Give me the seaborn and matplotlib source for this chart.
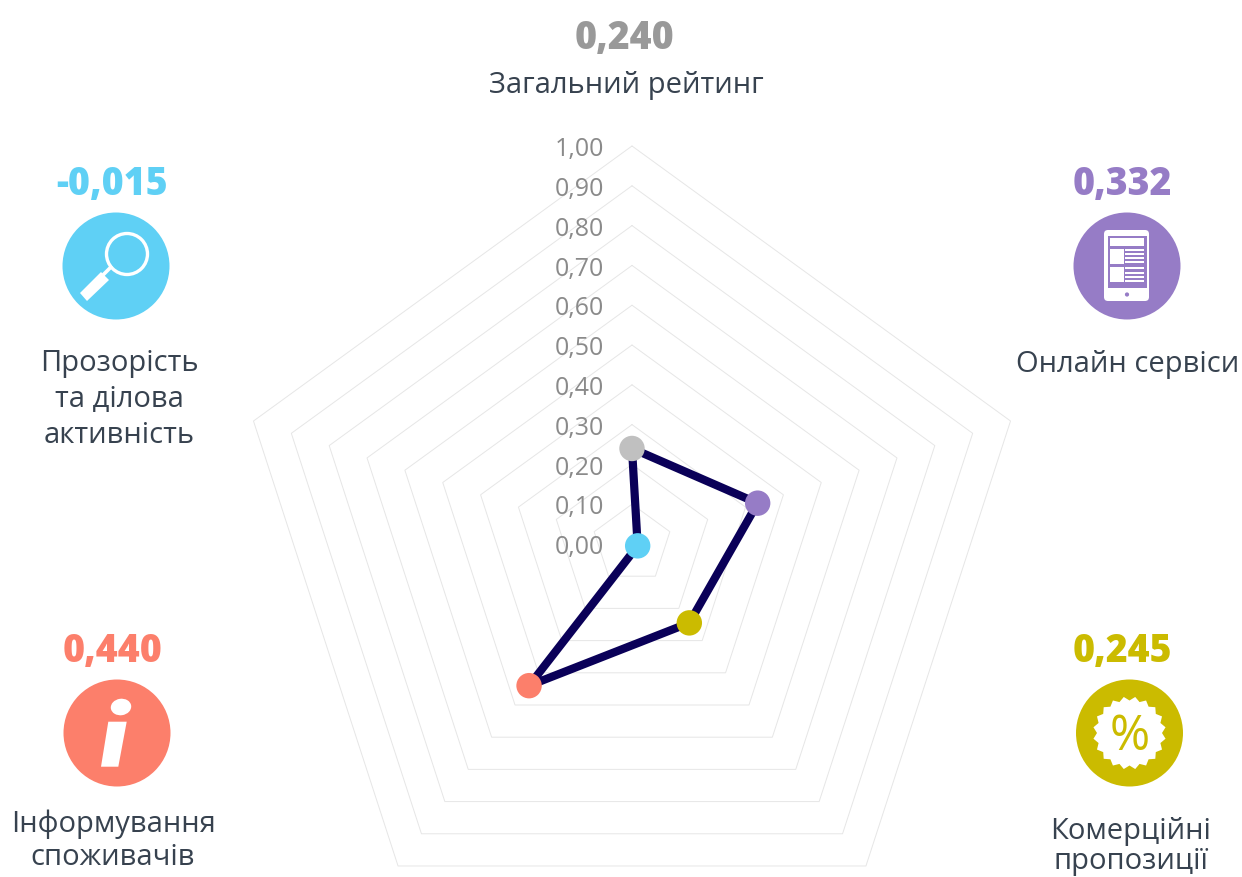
import numpy as np
import pandas as pd
import matplotlib
matplotlib.use("Agg")
import matplotlib.pyplot as plt
from matplotlib.patches import Circle, Ellipse, Polygon, Rectangle, FancyBboxPatch
import seaborn as sns

# ---- data ----
categories = ["Загальний рейтинг", "Онлайн сервіси", "Комерційні пропозиції",
              "Інформування споживачів", "Прозорість та ділова активність"]
values = [0.240, 0.332, 0.245, 0.440, -0.015]
value_labels = ["0,240", "0,332", "0,245", "0,440", "-0,015"]
ring_levels = [0.10, 0.20, 0.30, 0.40, 0.50, 0.60, 0.70, 0.80, 0.90, 1.00]
tick_levels = [0.00, 0.10, 0.20, 0.30, 0.40, 0.50, 0.60, 0.70, 0.80, 0.90, 1.00]
tick_labels = ["0,00", "0,10", "0,20", "0,30", "0,40", "0,50", "0,60", "0,70", "0,80", "0,90", "1,00"]
point_colors = ["#c0c0c0", "#967cc6", "#cbbb00", "#fc7f6b", "#5fd0f5"]
value_colors = ["#999999", "#967cc6", "#cbbb00", "#fc7f6b", "#5fd0f5"]

sns.set_theme(style="white")
plt.rcParams["font.family"] = ["Open Sans", "DejaVu Sans"]

W, H = 1242, 878
CX, CY, R = 632, 545, 398
TEXT = "#37424f"
GRID = "#e6e6e6"

fig = plt.figure(figsize=(W / 100, H / 100), dpi=100, facecolor="white")

# radar axes: one data unit = R pixels
ax = fig.add_axes([0, 0, 1, 1])
ax.set_xlim(-CX / R, (W - CX) / R)
ax.set_ylim((CY - H) / R, CY / R)
ax.axis("off")

angles = np.arange(len(categories)) * 2 * np.pi / len(categories)
ux, uy = np.sin(angles), np.cos(angles)

for lev in ring_levels:
    ring = pd.DataFrame({"x": np.r_[ux, ux[0]] * lev, "y": np.r_[uy, uy[0]] * lev})
    sns.lineplot(data=ring, x="x", y="y", sort=False, estimator=None, color=GRID,
                 linewidth=0.7, ax=ax, legend=False, zorder=1)

for lev, lab in zip(tick_levels, tick_labels):
    ax.text(-0.07, lev - 0.007, lab, ha="right", va="center", fontsize=18,
            color="#8a8a8a", fontstretch="normal", zorder=2)

v = np.array(values)
df = pd.DataFrame({"x": np.r_[ux * v, ux[0] * v[0]], "y": np.r_[uy * v, uy[0] * v[0]]})
sns.lineplot(data=df, x="x", y="y", sort=False, estimator=None, color="#0a0058",
             linewidth=5.9, ax=ax, legend=False, zorder=3)
pts = pd.DataFrame({"x": ux * v, "y": uy * v, "cat": categories})
sns.scatterplot(data=pts, x="x", y="y", hue="cat", palette=dict(zip(categories, point_colors)),
                s=335, linewidth=0, ax=ax, legend=False, zorder=4)
ax.set_xlabel("")
ax.set_ylabel("")

# overlay in pixel coordinates for captions and icons
ov = fig.add_axes([0, 0, 1, 1], facecolor="none")
ov.set_xlim(0, W)
ov.set_ylim(H, 0)
ov.axis("off")

def val(x, y, i):
    ov.text(x, y + 3, value_labels[i], ha="center", va="center", fontsize=27,
            fontweight="heavy", fontstretch="normal", color=value_colors[i])

def cap(x, y, s):
    ov.text(x, y + 3, s, ha="center", va="center", fontsize=21, fontstretch="normal", color=TEXT)

val(625, 35, 0); cap(626, 83, "Загальний рейтинг")
val(1122, 181, 1); cap(1128, 362, "Онлайн сервіси")
val(1122, 649, 2); cap(1131, 829, "Комерційні"); cap(1131, 859, "пропозиції")
val(113, 649, 3); cap(113, 821, "Інформування"); cap(113, 855, "споживачів")
val(112, 181, 4); cap(119, 361, "Прозорість"); cap(119, 397, "та ділова"); cap(119, 433, "активність")

# magnifier icon
ov.add_patch(Circle((116, 267), 53.5, fc=value_colors[4], ec="none"))
ov.add_patch(Circle((127, 255), 20.5, fc="none", ec="white", lw=2.4))
ov.plot([112, 102], [267, 277], color="white", lw=2.6, solid_capstyle="butt")
ov.add_patch(Polygon([(101, 273), (109, 281), (87, 302), (80, 294)], fc="white", ec="none"))

# tablet icon
p = value_colors[1]
ov.add_patch(Circle((1127, 267), 53.5, fc=p, ec="none"))
ov.add_patch(FancyBboxPatch((1107, 234), 39, 65, boxstyle="round,pad=3,rounding_size=4", fc="white", ec="none"))
ov.add_patch(Rectangle((1108, 237), 39, 52, fc=p, ec="none"))
ov.add_patch(Rectangle((1110, 239), 34, 8, fc="white", ec="none"))
ov.add_patch(Rectangle((1110, 250), 13.5, 15, fc="white", ec="none"))
ov.add_patch(Rectangle((1110, 268), 13.5, 15, fc="white", ec="none"))
for yy in [250, 254, 258, 262, 268, 273, 277, 281]:
    ov.add_patch(Rectangle((1124.5, yy), 19.5, 2.2, fc="white", ec="none"))
ov.add_patch(Circle((1127, 295.5), 2.1, fc=p, ec="none"))

# badge icon
g = value_colors[2]
ov.add_patch(Circle((1129.5, 734), 53.5, fc=g, ec="none"))
n = 20
th = (np.arange(2 * n) + 1) * np.pi / n
rad = np.where(np.arange(2 * n) % 2 == 0, 36.5, 32.5)
ov.add_patch(Polygon(np.c_[1129.5 + rad * np.sin(th), 734 + rad * np.cos(th)], fc="white", ec="none"))
ov.text(1129.5, 737, "%", ha="center", va="center", fontsize=35, fontweight="medium",
        fontstretch="normal", color=g)

# info icon
s = value_colors[3]
ov.add_patch(Circle((117, 734), 53.5, fc=s, ec="none"))
ov.add_patch(Ellipse((121, 708), 20.5, 16.5, angle=-8, fc="white", ec="none"))
ov.add_patch(Polygon([(108.3, 722.7), (126.7, 722.7), (118.3, 767.7), (101, 767.7)], fc="white", ec="none"))

fig.savefig("out.png", dpi=100)
